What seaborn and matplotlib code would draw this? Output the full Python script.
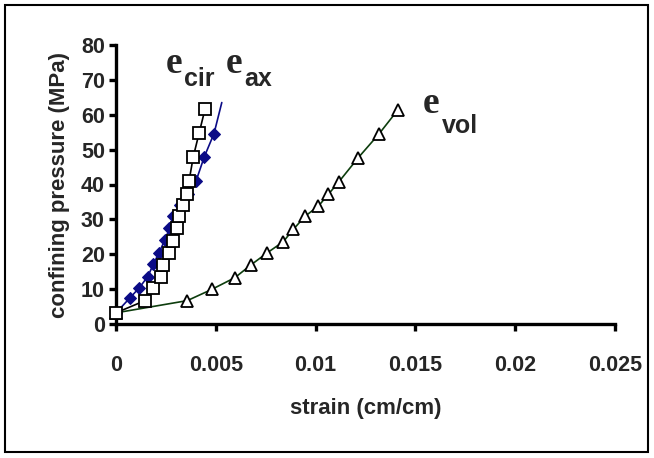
import matplotlib
matplotlib.use("Agg")
import matplotlib.pyplot as plt
import seaborn as sns
import pandas as pd
from matplotlib.patches import Rectangle

# ---- data ----
cir_x = [0, 0.00145, 0.00187, 0.00224, 0.00237, 0.00267, 0.00287, 0.00304, 0.00317,
         0.00337, 0.00357, 0.00366, 0.00387, 0.00417, 0.00446]
cir_y = [3.2, 6.7, 10.2, 13.6, 16.9, 20.4, 23.9, 27.4, 31.0, 34.1, 37.4, 41.0, 47.9, 54.9, 61.6]

ax_x = [0, 0.0007, 0.00117, 0.00159, 0.00187, 0.00215, 0.00245, 0.00268, 0.00287,
        0.0032, 0.0036, 0.00401, 0.00442, 0.00491, 0.0053]
ax_y = [3.2, 7.5, 10.4, 13.6, 17.1, 20.4, 24.1, 27.4, 31.0, 34.1, 37.4, 41.0, 47.9, 54.6, 63.5]

vol_x = [0, 0.00357, 0.00479, 0.00596, 0.00675, 0.00755, 0.00838, 0.00888, 0.00947,
         0.01014, 0.01064, 0.01117, 0.01214, 0.01319, 0.01411]
vol_y = [3.2, 6.7, 9.9, 13.3, 16.9, 20.3, 23.6, 27.1, 30.9, 33.8, 37.2, 40.8, 47.7, 54.6, 61.3]

x_ticks = [0, 0.005, 0.01, 0.015, 0.02, 0.025]
x_tick_labels = ["0", "0.005", "0.01", "0.015", "0.02", "0.025"]
y_ticks = [0, 10, 20, 30, 40, 50, 60, 70, 80]

sns.set_theme(style="white")
plt.rcParams['font.family'] = ['Liberation Sans', 'DejaVu Sans']

W, H = 654, 458
fig = plt.figure(figsize=(W / 100, H / 100), dpi=100)
ax = fig.add_axes([116 / W, 1 - 324 / H, (615 - 116) / W, (324 - 45) / H])

df_ax = pd.DataFrame({"x": ax_x, "y": ax_y})
df_cir = pd.DataFrame({"x": cir_x, "y": cir_y})
df_vol = pd.DataFrame({"x": vol_x, "y": vol_y})

sns.lineplot(data=df_ax, x="x", y="y", ax=ax, sort=False, estimator=None,
             color="#0b0b86", linewidth=1.2, marker="D", markersize=6.5,
             markerfacecolor="#0b0b86", markeredgecolor="#0b0b86",
             markevery=list(range(len(ax_x) - 1)), clip_on=False, zorder=3)
sns.lineplot(data=df_vol, x="x", y="y", ax=ax, sort=False, estimator=None,
             color="#0d3d0d", linewidth=1.2, marker="^", markersize=9,
             markerfacecolor="white", markeredgecolor="black", markeredgewidth=1.3,
             clip_on=False, zorder=4)
sns.lineplot(data=df_cir, x="x", y="y", ax=ax, sort=False, estimator=None,
             color="black", linewidth=1.2, marker="s", markersize=8.5,
             markerfacecolor="white", markeredgecolor="black", markeredgewidth=1.3,
             clip_on=False, zorder=5)

ax.set_xlim(0, 0.025)
ax.set_ylim(0, 80)
ax.set_xticks(x_ticks)
ax.set_xticklabels(x_tick_labels)
ax.set_yticks(y_ticks)

for s in ["top", "right"]:
    ax.spines[s].set_visible(False)
for s in ["left", "bottom"]:
    ax.spines[s].set_linewidth(2.4)
    ax.spines[s].set_color("black")

ax.tick_params(axis="both", direction="out", length=5, width=2.4, color="black",
               labelsize=15.5, bottom=True, left=True)
ax.tick_params(axis="x", pad=17)
ax.tick_params(axis="y", pad=3)
for lab in ax.get_xticklabels() + ax.get_yticklabels():
    lab.set_fontweight("bold")

ax.set_xlabel("strain (cm/cm)", fontsize=16, fontweight="bold", labelpad=16)
ax.set_ylabel("confining pressure (MPa)", fontsize=16, fontweight="bold", labelpad=8)
ax.grid(False)

# curve annotations
serif = ['Liberation Serif', 'DejaVu Serif']
sans = ['Liberation Sans', 'DejaVu Sans']
def lbl(xe, ye, xs, ys, sub):
    fig.text(xe / W, 1 - ye / H, "e", family=serif, fontweight="bold", fontsize=27,
             ha="left", va="baseline")
    fig.text(xs / W, 1 - ys / H, sub, family=sans, fontweight="bold", fontsize=18,
             ha="left", va="baseline")

lbl(166, 73, 184, 86, "cir")
lbl(226, 73, 244, 86, "ax")
lbl(423, 113, 442, 133, "vol")

# outer frame
fig.patches.append(Rectangle((5 / W, 1 - 452 / H), (648 - 5) / W, (452 - 5) / H,
                             transform=fig.transFigure, fill=False,
                             edgecolor="black", linewidth=1.5))

fig.savefig("out.png", dpi=100)
